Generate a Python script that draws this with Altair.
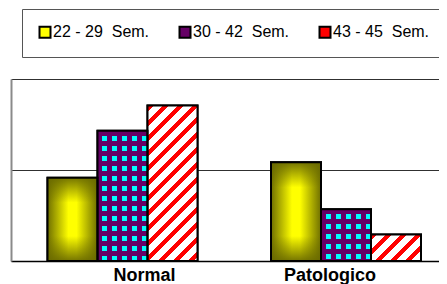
import json
import altair as alt
import pandas as pd

# ---------------- data ----------------
categories = ["Normal", "Patologico"]
series = ["22 - 29\u00a0 Sem.", "30 - 42\u00a0 Sem.", "43 - 45\u00a0 Sem."]
normal_values = [45.8, 71.6, 85.4]
patologico_values = [54.2, 28.4, 14.6]
legend_colors = ["#ffff00", "#660066", "#ff0000"]

rows = []
for cat, vals in zip(categories, [normal_values, patologico_values]):
    for s, v in zip(series, vals):
        rows.append({"cat": cat, "series": s, "value": v})
df = pd.DataFrame(rows)

# ---------------- geometry used for pattern styling ----------------
W_PLOT = 436
H_PLOT = 182
STEP = 223.5
BAR_W = 50.0
PAD_INNER = 1 - 3 * BAR_W / STEP
PAD_OUTER = (W_PLOT / STEP - 2 + PAD_INNER) / 2
ALIGN = 36.5 / (W_PLOT - STEP * (2 - PAD_INNER))

FONT = "Liberation Sans"
PURPLE = "#660066"
CLEAR = "rgba(255,255,255,0)"


def px_h(v):
    return v / 100.0 * H_PLOT


def bands(length, period, frac, c_on, c_off):
    d = period / length
    stops = []
    k = 0
    while k * d < 1:
        a = k * d
        b = min(a + frac * d, 1.0)
        c = min((k + 1) * d, 1.0)
        stops += [{"offset": round(a, 4), "color": c_on},
                  {"offset": round(b, 4), "color": c_on}]
        if b < 1:
            stops += [{"offset": round(b, 4), "color": c_off},
                      {"offset": round(c, 4), "color": c_off}]
        k += 1
    return stops


def yellow_h():
    return {"gradient": "linear", "x1": 0, "y1": 0, "x2": 1, "y2": 0,
            "stops": [{"offset": 0, "color": "#6f6f00"},
                      {"offset": 0.42, "color": "#ffff00"},
                      {"offset": 0.58, "color": "#ffff00"},
                      {"offset": 1, "color": "#6f6f00"}]}


def yellow_v(h):
    f = min(25.0 / h, 0.5)
    dark = "rgba(105,105,0,0.92)"
    clear = "rgba(105,105,0,0)"
    return {"gradient": "linear", "x1": 0, "y1": 0, "x2": 0, "y2": 1,
            "stops": [{"offset": 0, "color": dark},
                      {"offset": round(f, 4), "color": clear},
                      {"offset": round(1 - f, 4), "color": clear},
                      {"offset": 1, "color": dark}]}


def checker_v(w):
    return {"gradient": "linear", "x1": 0, "y1": 0, "x2": 1, "y2": 0,
            "stops": bands(w, 10.0, 0.5, PURPLE, "rgba(102,0,102,0)")}


def checker_h(h):
    return {"gradient": "linear", "x1": 0, "y1": 0, "x2": 0, "y2": 1,
            "stops": bands(h, 10.0, 0.5, PURPLE, "rgba(102,0,102,0)")}


def diag(w, h):
    L = w + h
    k = L / (w * w + h * h)
    return {"gradient": "linear", "x1": 0, "y1": 0,
            "x2": round(w * k, 4), "y2": round(h * k, 4),
            "stops": bands(L, 15.0, 0.42, "#ff0000", "#ffffff")}


layer_fills = [{}, {}, {}]
for cat, vals in zip(categories, [normal_values, patologico_values]):
    for i, (s, v) in enumerate(zip(series, vals)):
        h = px_h(v)
        if i == 0:
            layer_fills[0][(cat, s)] = yellow_h()
            layer_fills[1][(cat, s)] = yellow_v(h)
        elif i == 1:
            layer_fills[0][(cat, s)] = "#00ffff"
            layer_fills[1][(cat, s)] = checker_v(BAR_W)
            layer_fills[2][(cat, s)] = checker_h(h)
        else:
            layer_fills[0][(cat, s)] = "#ffffff"
            layer_fills[1][(cat, s)] = diag(BAR_W, h)

# ---------------- chart ----------------
x_enc = alt.X(
    "cat:N",
    sort=categories,
    scale=alt.Scale(paddingInner=PAD_INNER, paddingOuter=PAD_OUTER, align=ALIGN),
    axis=alt.Axis(
        title=None, labelAngle=0, ticks=False, domain=True,
        domainColor="#000000", domainWidth=1.5,
        labelFont=FONT, labelFontSize=18, labelFontWeight="bold",
        labelColor="#000000", labelBaseline="alphabetic", labelPadding=19,
        labelOffset={"condition": {"test": "datum.value === 'Normal'", "value": 22},
                     "value": -16},
    ),
)
y_enc = alt.Y(
    "value:Q",
    scale=alt.Scale(domain=[0, 100], nice=False),
    axis=alt.Axis(
        title=None, labels=False, ticks=False, values=[0, 50, 100],
        grid=True, gridColor="#303030", gridWidth=1,
        domain=True, domainColor="#8a8a8a", domainWidth=2,
    ),
)
xo_enc = alt.XOffset("series:N", sort=series,
                     scale=alt.Scale(domain=series, paddingInner=0, paddingOuter=0))

base = alt.Chart(df).encode(x=x_enc, y=y_enc, xOffset=xo_enc)

legend_layer = base.mark_bar(stroke="#000000", strokeWidth=2).encode(
    color=alt.Color(
        "series:N",
        sort=series,
        scale=alt.Scale(domain=series, range=legend_colors),
        legend=alt.Legend(
            orient="none", legendX=11, legendY=-70, direction="horizontal",
            columns=3, title=None, symbolType="square", symbolSize=121,
            symbolStrokeColor="#000000", symbolStrokeWidth=2, symbolOpacity=1,
            labelFont=FONT, labelFontSize=16, labelColor="#000000",
            labelOffset=0, columnPadding=25, padding=15,
            strokeColor="#555555", fillColor="#ffffff",
        ),
    )
)


def styled_layer(fills):
    conds = []
    for (c, s), f in fills.items():
        test = ("datum.cat === " + json.dumps(c, ensure_ascii=False)
                + " && datum.series === " + json.dumps(s, ensure_ascii=False))
        conds.append({"test": test, "value": f})
    return base.mark_bar(strokeWidth=0).encode(fill=alt.value(CLEAR, condition=conds))


pattern_layers = [styled_layer(f) for f in layer_fills if f]
outline = base.mark_bar(fillOpacity=0, stroke="#000000", strokeWidth=2)

chart = alt.layer(legend_layer, *pattern_layers, outline).properties(
    width=W_PLOT,
    height=H_PLOT,
    padding={"left": 3, "top": 71, "right": -8, "bottom": 30},
    autosize=alt.AutoSizeParams(type="none"),
    background="#ffffff",
).configure_view(stroke=None)

chart.save("out.html", embed_options={"renderer": "svg", "actions": False})
